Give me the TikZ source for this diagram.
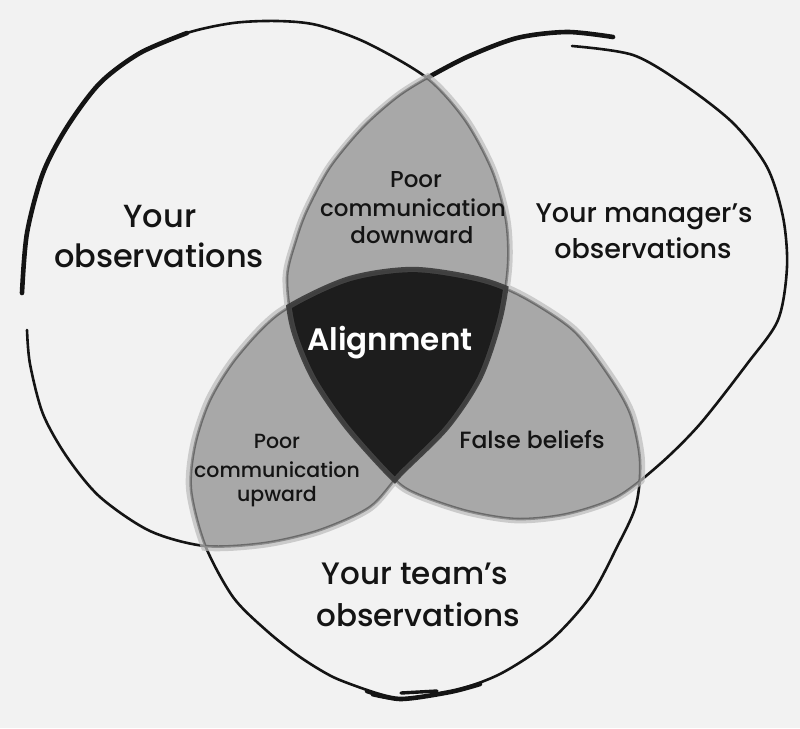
\documentclass[tikz,border=0pt]{standalone}
\usepackage{fontspec}
\setmainfont{Poppins}[UprightFont={* Medium}, BoldFont={* SemiBold}]
\definecolor{paper}{HTML}{F2F2F2}
\definecolor{ink}{HTML}{141414}
\definecolor{washcore}{HTML}{8C8C8C}
\definecolor{washedge}{HTML}{BDBDBD}
\definecolor{deepcore}{HTML}{131313}
\definecolor{deepedge}{HTML}{3C3C3C}

% outlines of the three sets, in pixel-like units (y grows downward)
\def\ringL{plot[smooth cycle] coordinates {(22,300) (30,364) (43,414) (67,457) (100,497) (150,531) (205,546) (265,543) (320,530) (370,507) (400,474) (447,427) (480,377) (500,318) (508,265) (506,220) (492,170) (465,120) (427,78) (367,43) (317,25) (277,21) (233,23) (187,33) (140,53) (100,83) (67,127) (43,173) (27,233)}}
\def\ringR{plot[smooth cycle] coordinates {(633,53) (683,83) (733,123) (767,167) (783,217) (787,267) (778,320) (747,364) (700,424) (660,464) (617,497) (567,514) (517,519) (467,511) (417,494) (393,478) (347,427) (313,377) (293,327) (287,277) (296,240) (307,210) (330,167) (363,127) (397,97) (427,78) (467,57) (517,38) (570,36)}}
\def\ringB{plot[smooth cycle] coordinates {(367,690) (333,677) (300,657) (267,631) (233,597) (205,545) (191,490) (195,445) (210,400) (237,357) (280,313) (347,280) (413,270) (480,280) (523,297) (573,330) (607,373) (630,413) (640,460) (636,505) (617,547) (590,597) (550,641) (500,674) (450,692) (400,698)}}

\begin{document}
\begin{tikzpicture}[x=1pt,y=-1pt,
  ring/.style={draw=ink, line width=2.6pt, line cap=round, line join=round},
  heavy/.style={draw=ink, line width=4.6pt, line cap=round, line join=round},
  setlabel/.style={anchor=base, inner sep=0pt, text=ink, font=\fontsize{#1}{#1}\selectfont},
  zonelabel/.style={anchor=base, inner sep=0pt, text=ink, font=\fontsize{#1}{#1}\selectfont},
  corelabel/.style={anchor=base, inner sep=0pt, text=white, font=\fontsize{#1}{#1}\selectfont\bfseries},
  grow L/.style={scale around={#1:(264,284)}},
  grow R/.style={scale around={#1:(537,278)}},
  grow B/.style={scale around={#1:(415,483)}}]

% paper
\fill[paper] (0,0) rectangle (800,728);
\useasboundingbox (0,0) rectangle (800,728);

% hand-drawn outlines
\coordinate (cL) at (264,284);
\coordinate (cR) at (537,278);
\coordinate (cB) at (415,483);
\draw[ring] plot[smooth] coordinates {(27,330) (30,364) (43,414) (67,457) (100,497) (150,531) (205,546) (265,543) (320,530) (370,507) (400,474) (447,427) (480,377) (500,318) (508,265) (506,220) (492,170) (465,120) (427,78) (367,43) (317,25) (277,21) (233,23) (187,33) (140,53) (100,83) (67,127) (43,173) (27,233) (22,293)};
\draw[heavy] plot[smooth] coordinates {(187,33) (140,53) (100,83) (67,127) (43,173) (27,233) (22,293)};
\draw[ring] plot[smooth] coordinates {(572,46) (633,55) (683,84) (733,123) (767,167) (783,217) (787,267) (778,320) (747,364) (700,424) (660,464) (617,497) (567,514) (517,519) (467,511) (417,494) (393,478) (347,427) (313,377) (293,327) (287,277) (296,240) (307,210) (330,167) (363,127) (397,97) (427,78) (467,57) (517,38) (567,32) (613,37)};
\draw[heavy] plot[smooth] coordinates {(427,78) (467,57) (517,38) (567,32) (613,37)};
\draw[ring] plot[smooth] coordinates {(367,690) (333,677) (300,657) (267,631) (233,597) (205,545) (191,490) (195,445) (210,400) (237,357) (280,313) (347,280) (413,270) (480,280) (523,297) (573,330) (607,373) (630,413) (640,460) (636,505) (617,547) (590,597) (550,641) (500,674) (450,692) (400,699) (372,695)};
\draw[heavy] plot[smooth] coordinates {(480,684) (450,692) (400,699) (367,691)};
\draw[heavy, line width=3.4pt] (401,693) -- (437,691);

% grey wash over the pairwise overlaps
\begin{scope}[transparency group, opacity=0.72]
  \begin{scope}
    \clip[grow L=1.018] \ringL;
    \fill[washedge, grow R=1.018] \ringR;
  \end{scope}
  \begin{scope}
    \clip[grow L=1.018] \ringL;
    \fill[washedge, grow B=1.022] \ringB;
  \end{scope}
  \begin{scope}
    \clip[grow R=1.018] \ringR;
    \fill[washedge, grow B=1.022] \ringB;
  \end{scope}
  \begin{scope}
    \clip \ringL;
    \fill[washcore] \ringR;
  \end{scope}
  \begin{scope}
    \clip \ringL;
    \fill[washcore] \ringB;
  \end{scope}
  \begin{scope}
    \clip \ringR;
    \fill[washcore] \ringB;
  \end{scope}
\end{scope}

% dark wash over the common core
\begin{scope}[transparency group, opacity=0.93]
  \begin{scope}
    \clip[grow L=1.012] \ringL;
    \clip[grow R=1.012] \ringR;
    \fill[deepedge, grow B=1.015] \ringB;
  \end{scope}
  \begin{scope}
    \clip[grow L=0.99] \ringL;
    \clip[grow R=0.99] \ringR;
    \fill[deepcore, grow B=0.99] \ringB;
  \end{scope}
\end{scope}

% set labels
\node[setlabel=32] (youA) at (160,227) {Your};
\node[setlabel=32] (youB) at (159,267) {observations};
\node[setlabel=27] (mgrA) at (644,222) {Your manager’s};
\node[setlabel=27] (mgrB) at (643,258) {observations};
\node[setlabel=31] (teamA) at (415,584) {Your team’s};
\node[setlabel=31] (teamB) at (418,626) {observations};

% overlap labels
\node[zonelabel=23] (downA) at (416,187) {Poor};
\node[zonelabel=23] (downB) at (413,216) {communication};
\node[zonelabel=23] (downC) at (412,243) {downward};
\node[zonelabel=20.5] (upA) at (277,448) {Poor};
\node[zonelabel=20.5] (upB) at (277,477) {communication};
\node[zonelabel=20.5] (upC) at (277,501) {upward};
\node[zonelabel=23.5] (falseA) at (532,448) {False beliefs};
\node[corelabel=31] (core) at (390,350) {Alignment};
\end{tikzpicture}
\end{document}
